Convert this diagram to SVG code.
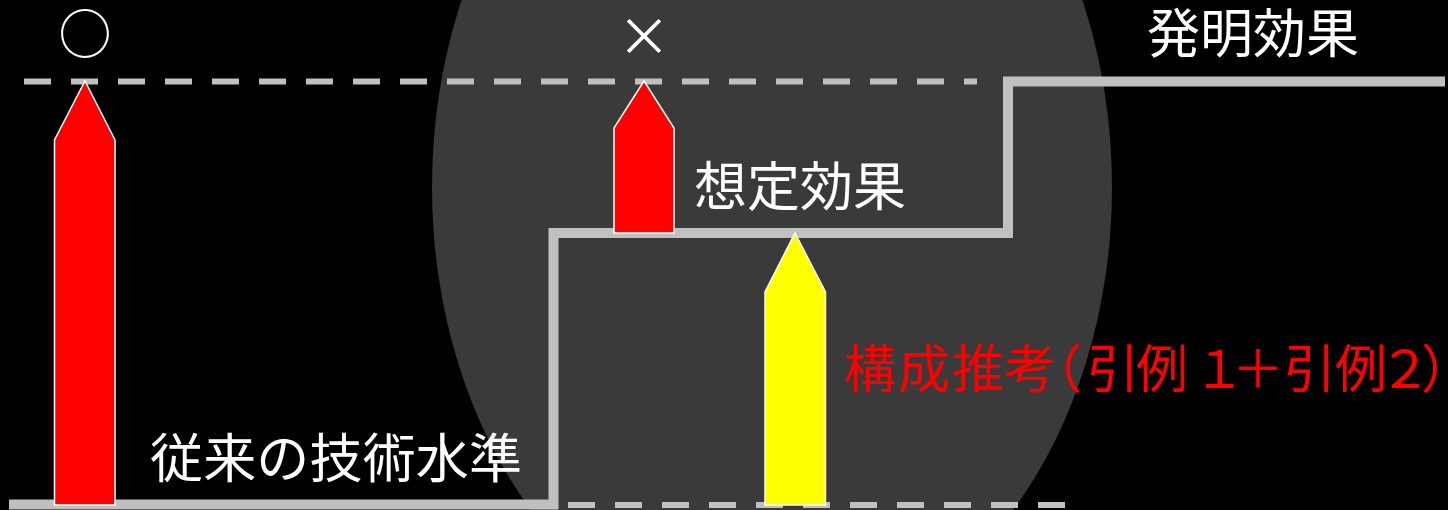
<svg xmlns="http://www.w3.org/2000/svg" width="1448" height="510" viewBox="0 0 1448 510">
<style>
.dash{stroke:#c0c0c0;stroke-width:6;stroke-dasharray:27 20;fill:none}
.step{stroke:#c0c0c0;stroke-width:10;fill:none;stroke-linejoin:miter}
.arrow{stroke:#ffffff;stroke-width:1.5}
.t{font-family:"Noto Sans CJK JP","Noto Sans",sans-serif;font-size:53px;fill:#ffffff}
.red{fill:#ff0000;font-size:52px}
</style>
<rect x="0" y="0" width="1448" height="510" fill="#000000"/>
<ellipse id="zone" cx="772" cy="187" rx="340" ry="458" fill="#3a3a3a"/>
<g id="connectors">
<line class="dash" x1="24" y1="81.5" x2="977" y2="81.5"/>
<line class="dash" x1="568" y1="505" x2="1066" y2="505"/>
<polyline class="step" points="9,504.5 553.5,504.5 553.5,233 1008,233 1008,81.5 1445,81.5"/>
</g>
<g id="label-maru"><text class="t" x="85" y="54" text-anchor="middle" font-size="48">○</text></g>
<g id="label-batsu"><text class="t" x="644" y="56" text-anchor="middle" font-size="48">×</text></g>
<g id="label-hatsumei"><text class="t" x="1147" y="53">発明効果</text></g>
<g id="label-soutei"><text class="t" x="694" y="206">想定効果</text></g>
<g id="label-juurai"><text class="t" x="150" y="478" textLength="372">従来の技術水準</text></g>
<g id="label-kousei"><text class="t red" y="388" x="844 898 952 1004 1030 1087 1136 1193 1232 1284 1335 1379 1421">構成推考（引例１＋引例２）</text></g>
<g id="arrow-maru"><polygon class="arrow" fill="#ff0000" points="85,81 115,140 115,505 54.5,505 54.5,140"/></g>
<g id="arrow-batsu"><polygon class="arrow" fill="#ff0000" points="644,81 674,128 674,233 614,233 614,128"/></g>
<g id="arrow-kousei"><polygon class="arrow" fill="#ffff00" points="795,233 825.5,292 825.5,505 765,505 765,292"/></g>
</svg>
